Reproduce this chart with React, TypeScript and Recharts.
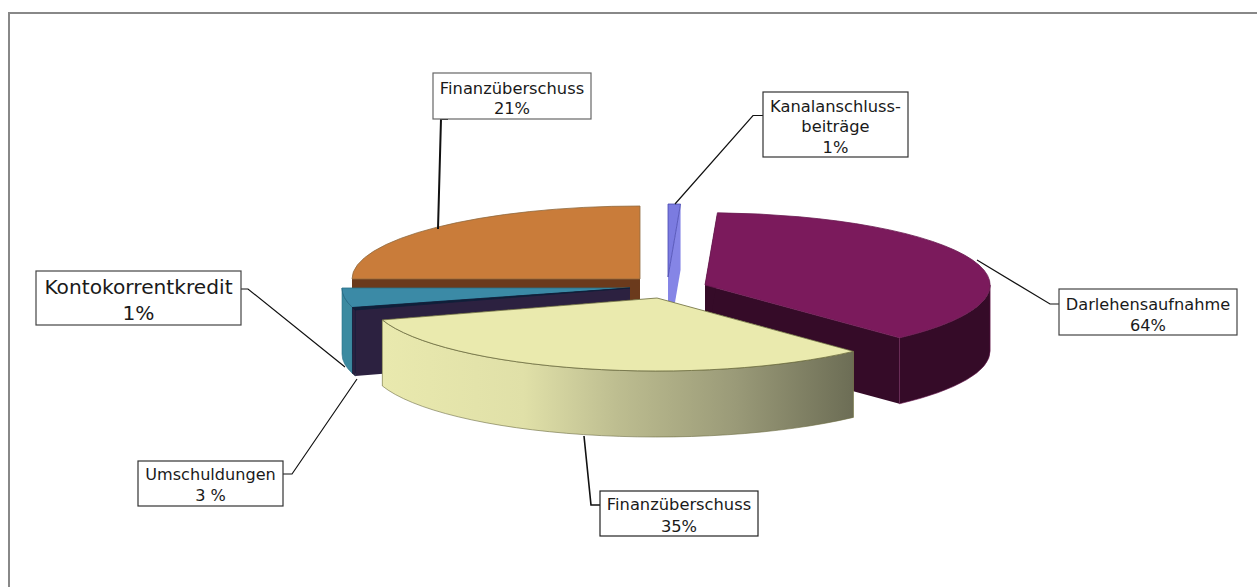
import React from "react";
import { PieChart, Pie } from "recharts";

// Slice sizes (degrees of the pie, in drawing order).
const sliceNames = ["Darlehensaufnahme", "Kanalanschlussbeiträge", "Finanzüberschuss A", "Kontokorrentkredit", "Umschuldungen", "Finanzüberschuss B"];
const sliceSizes = [134.5, 2.5, 90, 15.5, 2, 115.5];
const labelLines = [
  ["Darlehensaufnahme", "64%"],
  ["Kanalanschluss-", "beiträge", "1%"],
  ["Finanzüberschuss", "21%"],
  ["Kontokorrentkredit", "1%"],
  ["Umschuldungen", "3 %"],
  ["Finanzüberschuss", "35%"],
];

const data = sliceNames.map((name, i) => ({ name, value: sliceSizes[i] }));

const W = 1257;
const H = 587;
const CX = 640;
const CY = 279;
const R = 288;
const SQUASH = 73 / 288;
const DEPTH = 66;

const sliceLook = [
  { dx: 65, dy: 6, scale: 0.99, top: "#7b1a5c", side: "#350b28", face: "#350b28", edge: "#6a1a50" },
  { dx: 28, dy: -2, scale: 1, top: "#7b7be0", side: "#6f6fd8", face: "#8585e6", edge: "#4a4ab0" },
  { dx: 0, dy: 0, scale: 1, top: "#c97c3a", side: "#6b3a1c", face: "#6b3a1c", edge: "#8f6a3f" },
  { dx: -10, dy: 9, scale: 1, top: "#3b8aa6", side: "#3b8aa0", face: "#2c2140", edge: "#2a6f88" },
  { dx: -10, dy: 9, scale: 1, top: "#10203a", side: "#2c2140", face: "#2c2140", edge: "#10203a" },
  { dx: 17, dy: 19, scale: 1, top: "#eaeaae", side: "url(#wallGradient)", face: "#e8e8ae", edge: "#6b6b40" },
];

const boxes = [
  { x: 1059, y: 289, w: 178, h: 46, size: 16.2, lineYs: [304, 325], stroke: "#444" },
  { x: 763, y: 92, w: 145, h: 65, size: 16.3, lineYs: [106, 126, 147], stroke: "#333" },
  { x: 433, y: 73, w: 158, h: 46, size: 16.3, lineYs: [88, 108], stroke: "#666" },
  { x: 36, y: 271, w: 205, h: 54, size: 20.2, lineYs: [287, 313], stroke: "#444" },
  { x: 138, y: 461, w: 145, h: 45, size: 16.1, lineYs: [474, 495], stroke: "#333" },
  { x: 600, y: 491, w: 158, h: 45, size: 16.3, lineYs: [504, 526], stroke: "#222" },
];

const leaders = [
  { pts: "977,260 1050,304 1059,304", width: 1.2 },
  { pts: "675,204 753,115.5 763,115.5", width: 1.2 },
  { pts: "438,229 441,119 448,119", width: 2 },
  { pts: "345,367 248,289 241,289", width: 1.2 },
  { pts: "357,379 292,474 283,474", width: 1.2 },
  { pts: "584,436 591,505 600,505", width: 1.6 },
];

const rad = (a: number) => (a * Math.PI) / 180;

function arcPoint(cx: number, cy: number, r: number, a: number) {
  return { x: cx + r * Math.cos(rad(a)), y: cy - r * SQUASH * Math.sin(rad(a)) };
}

function wallRanges(s: number, e: number) {
  const out: [number, number][] = [];
  for (let k = -1; k <= 1; k++) {
    const lo = Math.max(s, 180 + 360 * k);
    const hi = Math.min(e, 360 + 360 * k);
    if (hi > lo) out.push([lo, hi]);
  }
  return out;
}

function Slice3D(p: any) {
  const i = sliceNames.indexOf(p.name ?? p.payload?.name);
  const look = sliceLook[i];
  const cx = p.cx + look.dx;
  const cy = p.cy + look.dy;
  const r = p.outerRadius * look.scale;
  const ry = r * SQUASH;
  const s = p.startAngle;
  const e = p.endAngle;
  const a = arcPoint(cx, cy, r, s);
  const b = arcPoint(cx, cy, r, e);
  const face = (q: { x: number; y: number }) =>
    `M${cx},${cy}L${q.x},${q.y}L${q.x},${q.y + DEPTH}L${cx},${cy + DEPTH}Z`;
  return (
    <g>
      <path d={face(a)} fill={look.face} />
      <path d={face(b)} fill={look.face} />
      {wallRanges(s, e).map(([lo, hi]) => {
        const u = arcPoint(cx, cy, r, lo);
        const v = arcPoint(cx, cy, r, hi);
        return (
          <path
            key={lo}
            d={`M${u.x},${u.y}A${r},${ry} 0 0 0 ${v.x},${v.y}L${v.x},${v.y + DEPTH}A${r},${ry} 0 0 1 ${u.x},${u.y + DEPTH}Z`}
            fill={look.side}
            stroke={look.edge}
            strokeWidth={0.6}
          />
        );
      })}
      <path
        d={`M${cx},${cy}L${a.x},${a.y}A${r},${ry} 0 ${e - s > 180 ? 1 : 0} 0 ${b.x},${b.y}Z`}
        fill={look.top}
        stroke={look.edge}
        strokeWidth={0.8}
      />
    </g>
  );
}

function BoxLabel(p: any) {
  const box = boxes[p.index];
  const lines = labelLines[p.index];
  return (
    <g>
      <rect x={box.x} y={box.y} width={box.w} height={box.h} fill="#fff" stroke={box.stroke} strokeWidth={1.2} />
      {lines.map((t, k) => (
        <text
          key={k}
          x={box.x + box.w / 2}
          y={box.lineYs[k]}
          textAnchor="middle"
          dominantBaseline="central"
          fontFamily="'DejaVu Sans', Verdana, sans-serif"
          fontSize={box.size}
          fill="#1a1a1a"
        >
          {t}
        </text>
      ))}
    </g>
  );
}

function LeaderLine(p: any) {
  const l = leaders[p.index];
  return <polyline points={l.pts} fill="none" stroke="#111" strokeWidth={l.width} />;
}

export default function App() {
  return (
    <div style={{ position: "absolute", left: 0, top: 0, width: W, height: H, background: "#fff", overflow: "hidden" }}>
      <div style={{ position: "absolute", left: 8, top: 12, width: 1249, height: 2, background: "#888" }} />
      <div style={{ position: "absolute", left: 8, top: 12, width: 2, height: 575, background: "#888" }} />
      <PieChart width={W} height={H} margin={{ top: 0, right: 0, bottom: 0, left: 0 }}>
        <defs>
          <linearGradient id="wallGradient" x1="0" y1="0" x2="1" y2="0">
            <stop offset="0%" stopColor="#e9e9ae" />
            <stop offset="30%" stopColor="#e0e0a8" />
            <stop offset="50%" stopColor="#bdbd90" />
            <stop offset="75%" stopColor="#9a9a78" />
            <stop offset="100%" stopColor="#6c6d55" />
          </linearGradient>
        </defs>
        <Pie
          data={data}
          dataKey="value"
          nameKey="name"
          cx={CX}
          cy={CY}
          innerRadius={0}
          outerRadius={R}
          startAngle={-47}
          endAngle={313}
          stroke="none"
          isAnimationActive={false}
          shape={Slice3D}
          label={BoxLabel}
          labelLine={LeaderLine}
        />
      </PieChart>
    </div>
  );
}
